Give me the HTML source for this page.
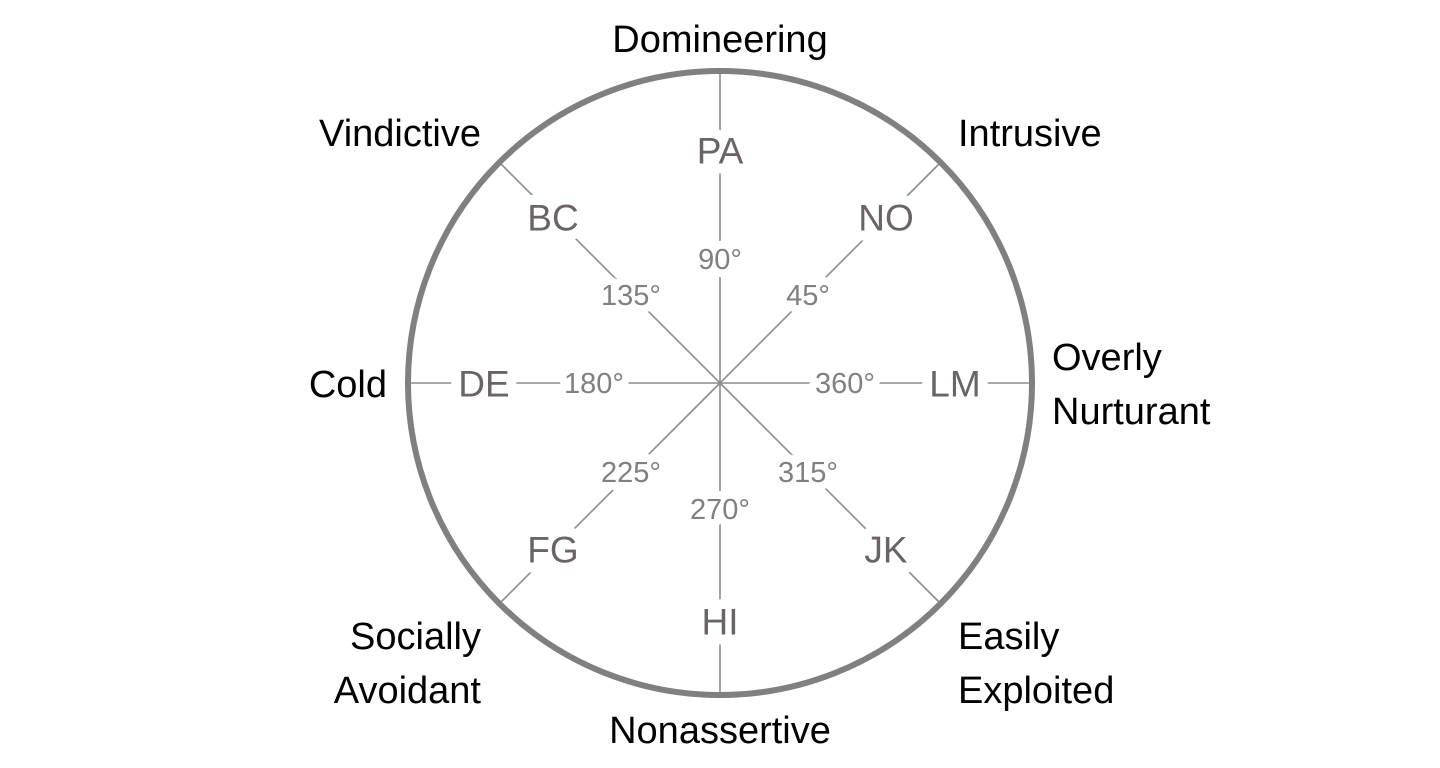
<!DOCTYPE html>
<html><head><meta charset="utf-8"><style>
html,body{margin:0;padding:0;background:#fff;}
svg{display:block;font-family:"Liberation Sans",Arial,sans-serif;}
.o{font-size:38px;fill:#000;}
.c{font-size:37px;fill:#6b6466;stroke:#fff;stroke-width:20px;paint-order:stroke;stroke-linejoin:round;}
.d{font-size:29px;fill:#808080;stroke:#fff;stroke-width:16px;paint-order:stroke;stroke-linejoin:round;}
</style></head><body>
<svg width="1440" height="768" viewBox="0 0 1440 768">
<g stroke="#8c8c8c" stroke-width="1.6">
<line x1="720" y1="383" x2="720" y2="71"/>
<line x1="720" y1="383" x2="720" y2="695"/>
<line x1="720" y1="383" x2="408" y2="383"/>
<line x1="720" y1="383" x2="1032" y2="383"/>
<line x1="720" y1="383" x2="941" y2="162"/>
<line x1="720" y1="383" x2="499" y2="162"/>
<line x1="720" y1="383" x2="499" y2="604"/>
<line x1="720" y1="383" x2="941" y2="604"/>
</g>
<circle cx="720" cy="383" r="312" fill="none" stroke="#808080" stroke-width="6"/>
<g text-anchor="middle" dominant-baseline="central">
<text class="c" x="720" y="151">PA</text>
<text class="c" x="720" y="622">HI</text>
<text class="c" x="484" y="384">DE</text>
<text class="c" x="955" y="384">LM</text>
<text class="c" x="553" y="218">BC</text>
<text class="c" x="886" y="218">NO</text>
<text class="c" x="553" y="550">FG</text>
<text class="c" x="886" y="550">JK</text>
<text class="d" x="720" y="260">90°</text>
<text class="d" x="720" y="510">270°</text>
<text class="d" x="594" y="384">180°</text>
<text class="d" x="845" y="384">360°</text>
<text class="d" x="631" y="296">135°</text>
<text class="d" x="808" y="296">45°</text>
<text class="d" x="631" y="473">225°</text>
<text class="d" x="808" y="473">315°</text>
<text class="o" x="720" y="40">Domineering</text>
<text class="o" x="720" y="731">Nonassertive</text>
</g>
<g dominant-baseline="central">
<text class="o" x="958" y="134">Intrusive</text>
<text class="o" x="481" y="134" text-anchor="end">Vindictive</text>
<text class="o" x="387" y="385" text-anchor="end">Cold</text>
<text class="o" x="1052" y="358">Overly</text>
<text class="o" x="1052" y="412">Nurturant</text>
<text class="o" x="481" y="637" text-anchor="end">Socially</text>
<text class="o" x="481" y="691" text-anchor="end">Avoidant</text>
<text class="o" x="958" y="637">Easily</text>
<text class="o" x="958" y="691">Exploited</text>
</g>
</svg>
</body></html>
